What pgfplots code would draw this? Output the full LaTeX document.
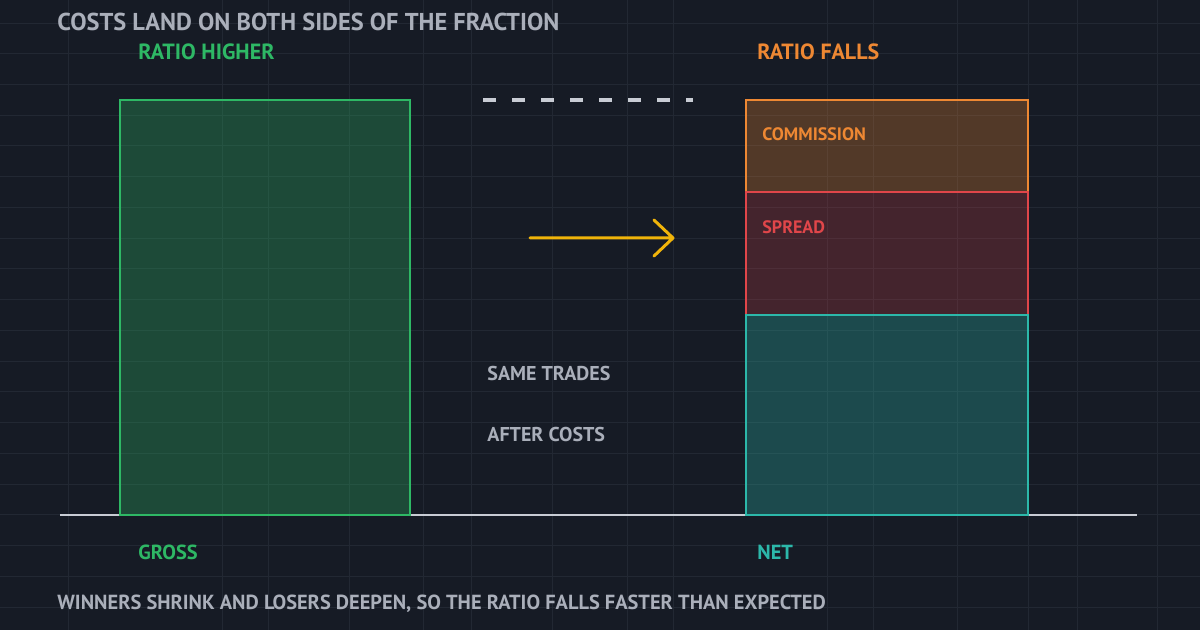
\documentclass[border=0pt]{standalone}
\usepackage{fontspec}
\setmainfont{PT Sans}
\usepackage{pgfplots}
\pgfplotsset{compat=1.18}

\definecolor{bg}{HTML}{161B25}
\definecolor{gridc}{HTML}{222833}
\definecolor{txt}{HTML}{AAAFBA}
\definecolor{base}{HTML}{C8CCD4}
\definecolor{grossc}{HTML}{2EB865}
\definecolor{netc}{HTML}{2CB8AA}
\definecolor{spreadc}{HTML}{E0464A}
\definecolor{commc}{HTML}{EE8833}
\definecolor{arrowc}{HTML}{F0B40A}

% y: 0 = baseline, 100 = gross height; x in pixels of the 1200x630 frame
\pgfplotsset{frame/.style={
    at={(0,0)}, anchor=south west,
    scale only axis, width=600pt, height=315pt,
    xmin=0, xmax=1200, ymin=-27.71, ymax=124.10,
}}

\begin{document}
\begin{tikzpicture}
\begin{axis}[
    frame,
    axis background/.style={fill=bg},
    axis line style={draw=none},
    xtick={68,222,268,349,423,471,552,627,673,827,873,957,1028,1077,1157},
    ytick={-22.23,-14.82,-7.41,0,7.41,14.82,22.23,29.64,37.05,44.46,51.87,59.28,66.69,74.10,81.51,88.92,96.33,103.73,111.14,118.55},
    xticklabels={}, yticklabels={},
    major tick length=0pt,
    grid=major,
    grid style={gridc, line width=0.5pt},
]
% baseline
\addplot[base, line width=1pt] coordinates {(60,0) (1137,0)};
% gross bar
\addplot[ybar, bar width=290, draw=grossc, line width=0.75pt,
    fill=grossc, fill opacity=0.3] coordinates {(265,100)};
% level of the gross bar
\addplot[base, line width=1.6pt, dash pattern=on 6.5pt off 8pt] coordinates {(483,100) (693,100)};
% arrow
\draw[arrowc, line width=1.5pt, line cap=round, line join=round]
    (axis cs:530,66.75) -- (axis cs:673,66.75)
    (axis cs:654,71.08) -- (axis cs:673,66.75) -- (axis cs:654,62.41);

\node[anchor=west, inner sep=0, text=txt, font=\bfseries\fontsize{12.2}{14}\selectfont] at (axis cs:57,118.8) {COSTS LAND ON BOTH SIDES OF THE FRACTION};
\node[anchor=west, inner sep=0, text=grossc, font=\bfseries\fontsize{11}{13}\selectfont] at (axis cs:138,111.57) {RATIO HIGHER};
\node[anchor=west, inner sep=0, text=commc, font=\bfseries\fontsize{11}{13}\selectfont] at (axis cs:757,111.57) {RATIO FALLS};
\node[anchor=west, inner sep=0, text=txt, font=\bfseries\fontsize{10}{12}\selectfont] at (axis cs:487,33.98) {SAME TRADES};
\node[anchor=west, inner sep=0, text=txt, font=\bfseries\fontsize{10}{12}\selectfont] at (axis cs:487,19.28) {AFTER COSTS};
\node[anchor=west, inner sep=0, text=grossc, font=\bfseries\fontsize{10.2}{12}\selectfont] at (axis cs:138,-8.92) {GROSS};
\node[anchor=west, inner sep=0, text=netc, font=\bfseries\fontsize{10.2}{12}\selectfont] at (axis cs:757,-8.92) {NET};
\node[anchor=west, inner sep=0, text=txt, font=\bfseries\fontsize{10.2}{12}\selectfont] at (axis cs:57,-21.45) {WINNERS SHRINK AND LOSERS DEEPEN, SO THE RATIO FALLS FASTER THAN EXPECTED};
\end{axis}

\begin{axis}[
    frame,
    hide axis,
    ybar stacked, bar width=282,
]
\addplot[draw=netc, line width=0.75pt, fill=netc, fill opacity=0.3] coordinates {(887,48.2)};
\addplot[draw=spreadc, line width=0.75pt, fill=spreadc, fill opacity=0.23] coordinates {(887,29.6)};
\addplot[draw=commc, line width=0.75pt, fill=commc, fill opacity=0.28] coordinates {(887,22.2)};
\node[anchor=west, inner sep=0, text=commc, font=\bfseries\fontsize{9}{11}\selectfont] at (axis cs:762,91.81) {COMMISSION};
\node[anchor=west, inner sep=0, text=spreadc, font=\bfseries\fontsize{9}{11}\selectfont] at (axis cs:762,69.40) {SPREAD};
\end{axis}
\pgfresetboundingbox
\useasboundingbox (current axis.south west) rectangle (current axis.north east);
\end{tikzpicture}
\end{document}
